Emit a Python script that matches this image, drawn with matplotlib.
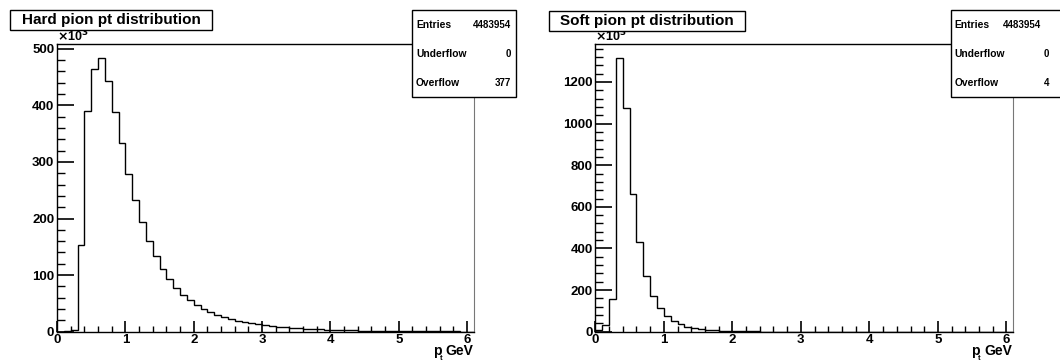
import matplotlib
matplotlib.use("Agg")
import matplotlib.pyplot as plt
import numpy as np
from matplotlib.patches import Rectangle
from matplotlib.ticker import MultipleLocator

# INPUT DATA (counts per 0.1 GeV bin, in units of 10^3)
bin_edges = np.round(np.arange(0, 6.15, 0.1), 2)

hard_counts = [0, 0.5, 3, 153, 390, 465, 483, 444, 388, 333,
               279, 232, 194, 160, 133, 111, 93, 78, 65, 56,
               48, 41, 35, 30, 26, 22, 19.5, 17, 15, 13,
               11.5, 10, 9, 8, 7, 6.2, 5.5, 4.9, 4.3, 3.8,
               3.4, 3.0, 2.7, 2.4, 2.1, 1.9, 1.7, 1.5, 1.3, 1.2,
               1.05, 0.95, 0.85, 0.75, 0.65, 0.6, 0.5, 0.45, 0.4, 0.35,
               0.3]

soft_counts = [8, 30, 155, 1313, 1073, 660, 429, 269, 171, 112,
               75, 50, 35, 24, 17, 12, 9, 6.5, 5, 3.7,
               2.8, 2.1, 1.6, 1.2, 0.9, 0.7, 0.55, 0.42, 0.33, 0.26,
               0.2, 0.16, 0.13, 0.1, 0.08, 0.06, 0.05, 0.04, 0.03, 0.025,
               0.02, 0.015, 0.012, 0.01, 0.008, 0.006, 0.005, 0.004, 0.003, 0.003,
               0.002, 0.002, 0.002, 0.001, 0.001, 0.001, 0.001, 0.001, 0, 0,
               0]

titles = ["Hard pion pt distribution", "Soft pion pt distribution"]
stats_labels = ["Entries", "Underflow", "Overflow"]
hard_stats = ["4483954", "0", "377"]
soft_stats = ["4483954", "0", "4"]

plt.rcParams['font.family'] = ['Liberation Sans', 'DejaVu Sans']
plt.rcParams['font.weight'] = 'bold'

W, H = 1060, 363
fig = plt.figure(figsize=(W / 100, H / 100), dpi=100)


def fx(px):
    return px / W


def fy(py):
    return 1 - py / H


def draw_panel(x0, x1, counts, ymax, ymajor, yminor, title, title_box, stats_box, stats_vals, val_x):
    ax = fig.add_axes([fx(x0), fy(331.7), fx(x1 - x0), fy(44.3) - fy(331.7)])
    ax.stairs(counts, bin_edges, color="black", linewidth=1.0)
    ax.set_xlim(0, 6.1)
    ax.set_ylim(0, ymax)
    ax.xaxis.set_major_locator(MultipleLocator(1))
    ax.xaxis.set_minor_locator(MultipleLocator(0.2))
    ax.yaxis.set_major_locator(MultipleLocator(ymajor))
    ax.yaxis.set_minor_locator(MultipleLocator(yminor))
    ax.tick_params(axis="x", which="major", direction="in", length=8, width=1.2,
                   labelsize=9.5, pad=1.5, top=False)
    ax.tick_params(axis="x", which="minor", direction="in", length=4, width=1, top=False)
    ax.tick_params(axis="y", which="major", direction="in", length=12, width=1.2,
                   labelsize=9.5, pad=2, right=False)
    ax.tick_params(axis="y", which="minor", direction="in", length=6, width=1, right=False)
    for lab in ax.get_xticklabels() + ax.get_yticklabels():
        lab.set_fontweight("bold")
    ax.spines["right"].set_color("#777777")
    for s in ["left", "bottom", "top"]:
        ax.spines[s].set_linewidth(1.0)
    # exponent label and axis title
    fig.text(fx(x0), fy(41.5), r"$\times$10$^{3}$", fontsize=9, ha="left", va="baseline")
    fig.text(fx(x0 + 376), fy(355), "p", fontsize=10, fontweight="bold", ha="left", va="baseline")
    fig.text(fx(x0 + 383), fy(360), "t", fontsize=5.5, fontweight="bold", ha="left", va="baseline")
    fig.text(fx(x1 - 1), fy(355), "GeV", fontsize=10, fontweight="bold", ha="right", va="baseline")

    # title box
    bx0, by0, bx1, by1 = title_box
    fig.patches.append(Rectangle((fx(bx0), fy(by1)), fx(bx1 - bx0), fy(by0) - fy(by1),
                                 transform=fig.transFigure, facecolor="white",
                                 edgecolor="black", linewidth=1.0, zorder=5))
    fig.text(fx((bx0 + bx1) / 2), fy((by0 + by1) / 2 + 0.5), title, fontsize=11, fontweight="bold",
             ha="center", va="center", zorder=6)

    # stats box
    sx0, sy0, sx1, sy1 = stats_box
    fig.patches.append(Rectangle((fx(sx0), fy(sy1)), fx(sx1 - sx0), fy(sy0) - fy(sy1),
                                 transform=fig.transFigure, facecolor="white",
                                 edgecolor="black", linewidth=1.0, zorder=5))
    for i, (lab, val) in enumerate(zip(stats_labels, stats_vals)):
        yy = 25.5 + i * 28.5
        fig.text(fx(sx0 + 4), fy(yy), lab, fontsize=7.4, fontweight="bold", ha="left", va="center", zorder=6)
        fig.text(fx(val_x[i]), fy(yy), val, fontsize=7.0, fontweight="bold", ha="right", va="center", zorder=6)
    return ax


draw_panel(57, 474, hard_counts, 508, 100, 20, titles[0],
           (10, 10, 212, 29.5), (412, 10, 516, 96.5), hard_stats, [511, 511, 511])
draw_panel(595.3, 1013.3, soft_counts, 1381, 200, 40, titles[1],
           (548.5, 10.5, 745, 30.5), (950.5, 10, 1075, 96.5), soft_stats, [1041, 1049, 1049])

fig.savefig("out.png", dpi=100, facecolor="white")
